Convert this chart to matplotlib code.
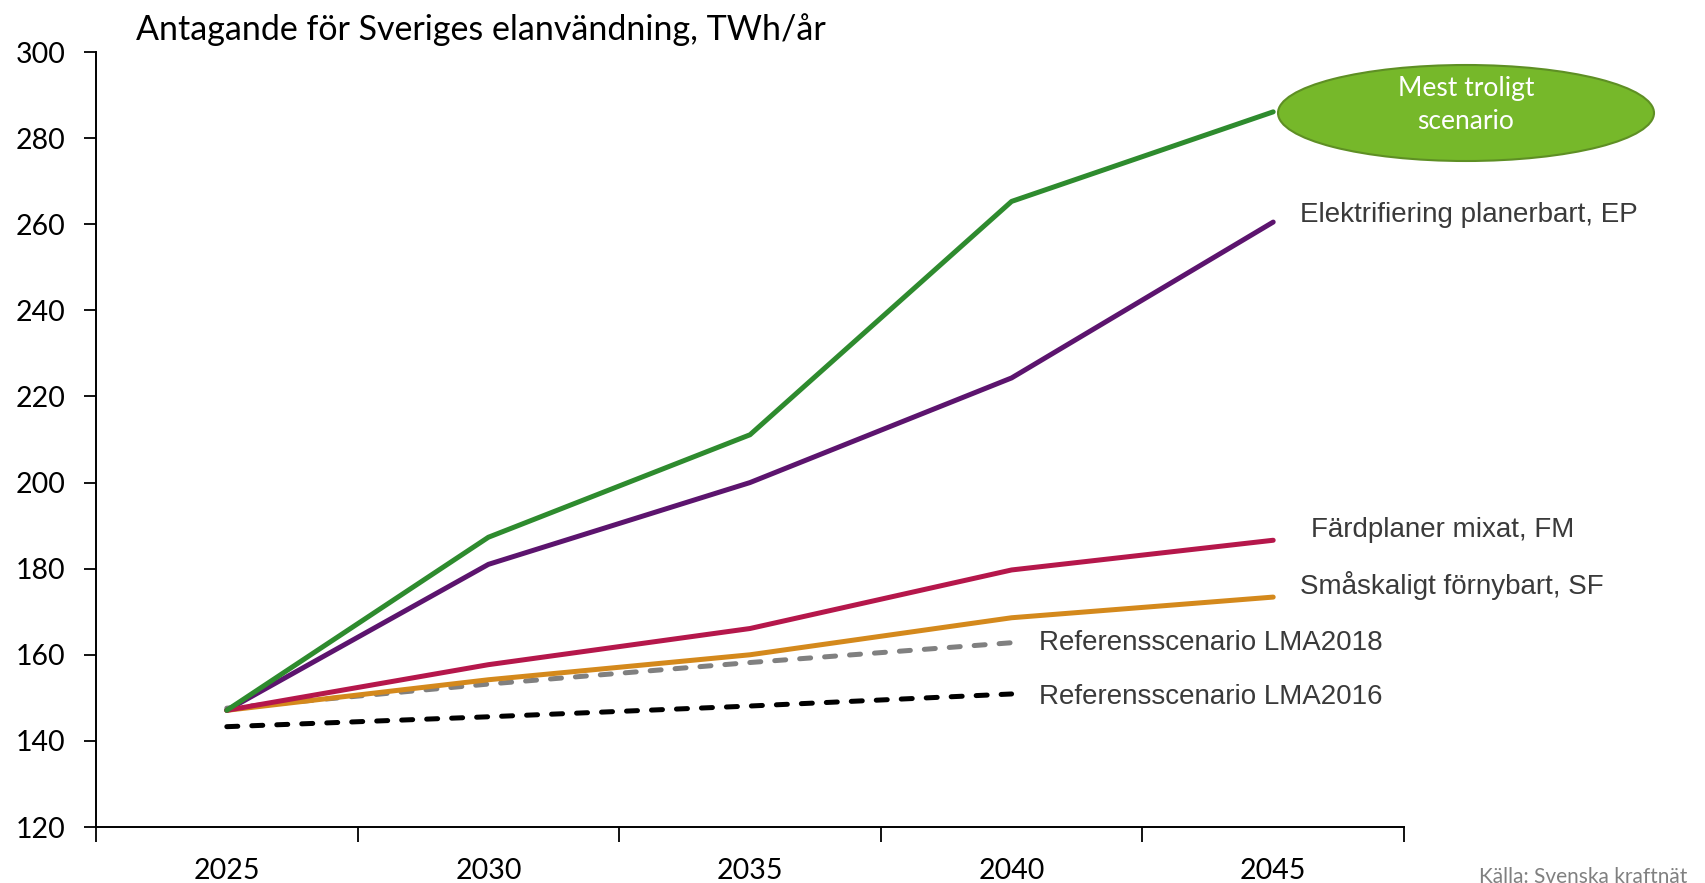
#!/usr/bin/env python3
"""Antagande för Sveriges elanvändning, scenario lines 2025-2045."""

import matplotlib.pyplot as plt
from matplotlib.patches import Ellipse

YEARS = ["2025", "2030", "2035", "2040", "2045"]
GREEN_MOST_LIKELY = [147.1, 187.3, 211.1, 265.3, 286.1]
EP = [147.1, 181.0, 200.0, 224.3, 260.5]
FM = [147.1, 157.7, 166.1, 179.7, 186.6]
SF = [147.1, 154.2, 160.0, 168.6, 173.4]
LMA2018 = [147.6, 153.2, 158.2, 162.8]
LMA2016 = [143.3, 145.6, 148.1, 150.9]

W, H = 1706, 883
CAL = ["Lato", "DejaVu Sans"]
ARIAL = ["Liberation Sans", "DejaVu Sans"]
LABEL_INK = "#3A3A3A"


def fx(px):
    return px / W


def fy(py):
    return 1 - py / H


fig = plt.figure(figsize=(W / 100, H / 100), dpi=100, facecolor="white")
ax = fig.add_axes([fx(96), fy(827), fx(1404) - fx(96), fy(52) - fy(827)])

x = list(range(len(YEARS)))
lw = 3.6
ax.plot(x, GREEN_MOST_LIKELY, color="#2E8B2E", lw=lw, solid_capstyle="round", zorder=5)
ax.plot(x, EP, color="#5C146E", lw=lw, solid_capstyle="round", zorder=4)
ax.plot(x, FM, color="#B5174B", lw=lw, solid_capstyle="round", zorder=4)
ax.plot(x, SF, color="#D4891C", lw=lw, solid_capstyle="round", zorder=3)
ax.plot(x[:4], LMA2018, color="#808080", lw=lw, dashes=(2.2, 2.8), dash_capstyle="round", zorder=2)
ax.plot(x[:4], LMA2016, color="black", lw=lw, dashes=(2.2, 2.8), dash_capstyle="round", zorder=2)

ax.set_xlim(-0.5, len(YEARS) - 0.5)
ax.set_ylim(120, 300)
ax.set_yticks(range(120, 301, 20))
ax.set_xticks([i - 0.5 for i in range(len(YEARS) + 1)])
ax.set_xticklabels([])
ax.set_xticks(x, minor=True)
ax.set_xticklabels(YEARS, minor=True)
ax.tick_params(axis="x", which="major", direction="out", length=11, width=1.3)
ax.tick_params(axis="x", which="minor", length=0, pad=22, labelsize=20.5)
ax.tick_params(axis="y", direction="out", length=9, width=1.3, labelsize=20.5, pad=13)
for lab in ax.get_xticklabels(minor=True) + ax.get_yticklabels():
    lab.set_family(CAL)
for side in ("top", "right"):
    ax.spines[side].set_visible(False)
for side in ("left", "bottom"):
    ax.spines[side].set_linewidth(1.4)

fig.text(fx(136), fy(30), "Antagande för Sveriges elanvändning, TWh/år",
         family=CAL, fontsize=24.5, ha="left", va="center")

labels = [
    ("Elektrifiering planerbart, EP", 1300, 215),
    ("Färdplaner mixat, FM", 1311, 530),
    ("Småskaligt förnybart, SF", 1300, 585),
    ("Referensscenario LMA2018", 1039, 643),
    ("Referensscenario LMA2016", 1039, 697),
]
for text, px, py in labels:
    fig.text(fx(px), fy(py), text, family=ARIAL, fontsize=20, color=LABEL_INK,
             ha="left", va="center")

ell = Ellipse((fx(1466), fy(113)), fx(376), 96 / H, transform=fig.transFigure,
              facecolor="#76B82A", edgecolor="#5E8F24", lw=1.5)
fig.patches.append(ell)
fig.text(fx(1466), fy(105), "Mest troligt\nscenario", family=CAL, fontsize=19,
         color="white", ha="center", va="center", linespacing=1.4)

fig.text(fx(1479), fy(867), "Källa: Svenska kraftnät", family=CAL, fontsize=15,
         color="#808080", ha="left", va="top")

fig.savefig("out.png", dpi=100, facecolor="white")
